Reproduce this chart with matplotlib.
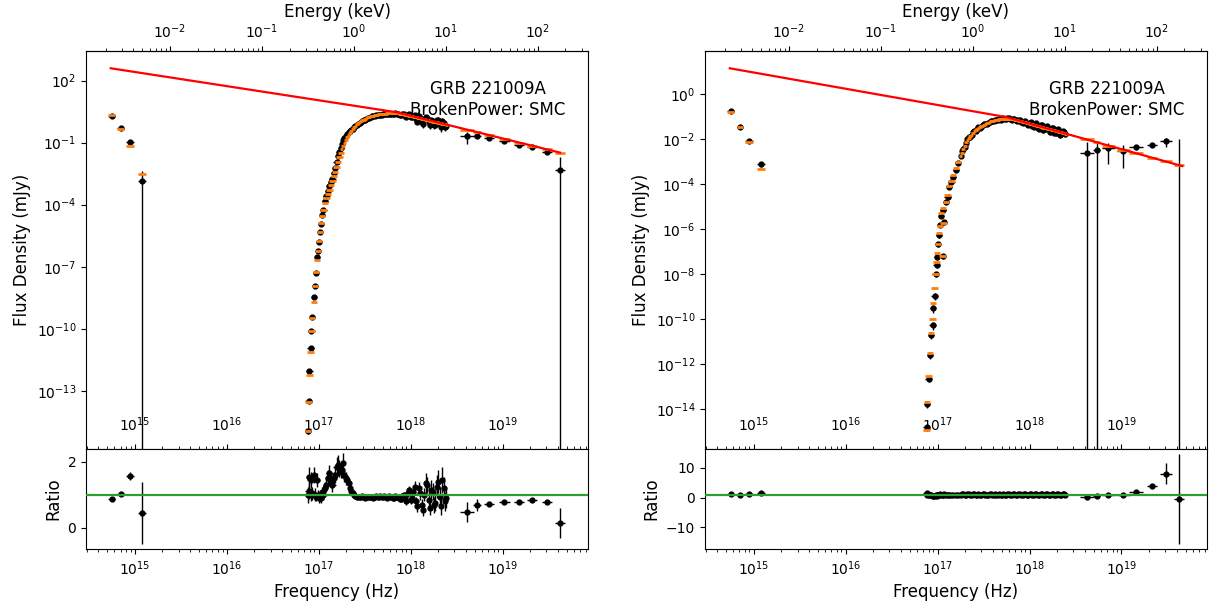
import numpy as np
import matplotlib
matplotlib.use('Agg')
import matplotlib.pyplot as plt
from matplotlib.ticker import FixedLocator, NullLocator

H_KEV = 4.135667696e-18  # keV * s

# ======================= LEFT PANEL DATA =======================
L_opt_lognu = [14.75, 14.847, 14.949, 15.076]
L_opt_halfw = [0.036, 0.036, 0.04, 0.045]
L_opt_model = [0.355, -0.32, -1.17, -2.51]
L_opt_ratio = [0.87, 1.04, 1.57, 0.45]
L_opt_rerr = [0.05, 0.05, 0.12, 0.95]

L_rise_lognu = [16.886, 16.891, 16.899, 16.912, 16.922, 16.930, 16.947, 16.958, 16.969, 16.983,
                16.994, 17.005, 17.013, 17.024, 17.038, 17.051, 17.070, 17.085, 17.100, 17.117,
                17.135, 17.150, 17.165, 17.180, 17.195, 17.210, 17.225, 17.240]
L_rise_model = [-14.95, -13.55, -12.24, -11.11, -10.10, -9.47, -8.69, -7.92, -7.27, -6.67,
                -6.22, -5.74, -5.30, -4.88, -4.55, -4.26, -3.92, -3.70, -3.50, -3.31,
                -3.05, -2.85, -2.62, -2.42, -2.20, -1.93, -1.70, -1.50]
L_rise_ratio = [1.00, 1.12, 1.55, 1.45, 1.00, 1.05, 1.60, 1.00, 0.95, 1.45,
                1.00, 0.90, 0.93, 0.90, 1.10, 1.00, 1.20, 1.30, 1.50, 1.65,
                1.40, 1.30, 1.50, 1.60, 1.85, 1.90, 1.80, 1.70]
L_rise_rerr = [0.25, 0.25, 0.30, 0.25, 0.20, 0.20, 0.25, 0.20, 0.15, 0.20,
               0.15, 0.15, 0.15, 0.15, 0.15, 0.15, 0.20, 0.20, 0.25, 0.25,
               0.20, 0.20, 0.20, 0.25, 0.30, 0.30, 0.25, 0.20]

L_peak_lognu = [17.25, 17.28, 17.31, 17.34, 17.37, 17.40, 17.43, 17.46, 17.49, 17.52,
                17.55, 17.58, 17.61, 17.64, 17.67, 17.70, 17.73, 17.76, 17.79, 17.82,
                17.85, 17.88, 17.91, 17.94, 17.97, 18.00, 18.03, 18.06, 18.09, 18.12,
                18.15, 18.18, 18.21, 18.24, 18.27, 18.30, 18.33, 18.36, 18.39]
L_peak_model = [-1.30, -1.00, -0.74, -0.52, -0.34, -0.18, -0.06, 0.04, 0.12, 0.19,
                0.25, 0.30, 0.33, 0.36, 0.38, 0.40, 0.41, 0.42, 0.43, 0.43,
                0.43, 0.41, 0.38, 0.35, 0.32, 0.29, 0.255, 0.225, 0.19, 0.16,
                0.125, 0.09, 0.06, 0.025, -0.005, -0.04, -0.07, -0.105, -0.135]
L_peak_ratio = [1.75, 1.60, 1.45, 1.20, 1.05, 0.97, 0.95, 0.93, 0.92, 0.94,
                0.92, 0.93, 0.95, 0.93, 0.96, 0.94, 0.92, 0.97, 0.93, 0.90,
                0.95, 0.88, 0.97, 0.90, 1.05, 0.85, 1.10, 0.80, 1.20, 0.70,
                1.00, 1.30, 0.60, 1.10, 0.75, 1.40, 0.65, 1.20, 0.90]
L_peak_rerr = [0.25, 0.20, 0.15, 0.10, 0.08, 0.06, 0.05, 0.05, 0.05, 0.05,
               0.05, 0.05, 0.05, 0.05, 0.05, 0.06, 0.06, 0.06, 0.07, 0.07,
               0.08, 0.08, 0.09, 0.10, 0.12, 0.12, 0.15, 0.15, 0.18, 0.18,
               0.20, 0.25, 0.20, 0.25, 0.25, 0.35, 0.25, 0.35, 0.30]

L_peak2_lognu = [17.265, 17.295, 17.325, 17.355, 17.385, 17.415, 17.445, 17.475, 17.505, 17.535,
                 17.565, 17.595, 17.625, 17.655, 17.685, 17.715, 17.745, 17.775, 17.805, 17.835,
                 17.865, 17.895, 17.925, 17.955, 17.985, 18.015, 18.045, 18.075, 18.105, 18.135,
                 18.165, 18.195, 18.225, 18.255, 18.285, 18.315, 18.345, 18.375]
L_peak2_model = [-1.15, -0.87, -0.63, -0.43, -0.26, -0.12, -0.01, 0.08, 0.155, 0.22,
                 0.275, 0.315, 0.345, 0.37, 0.39, 0.405, 0.415, 0.425, 0.43, 0.43,
                 0.42, 0.395, 0.365, 0.335, 0.305, 0.27, 0.24, 0.21, 0.175, 0.14,
                 0.105, 0.075, 0.04, 0.01, -0.02, -0.055, -0.09, -0.12]
L_peak2_ratio = [1.95, 1.50, 1.35, 1.12, 1.00, 0.95, 0.93, 0.96, 0.91, 0.95,
                 0.93, 0.90, 0.96, 0.92, 0.94, 0.97, 0.90, 0.95, 0.91, 0.96,
                 0.92, 0.86, 1.00, 0.82, 1.15, 0.90, 1.25, 0.65, 1.05, 0.55,
                 1.35, 0.85, 1.15, 0.70, 1.25, 0.95, 1.45, 0.80]
L_peak2_rerr = [0.30, 0.20, 0.15, 0.10, 0.07, 0.06, 0.05, 0.05, 0.05, 0.05,
                0.05, 0.05, 0.05, 0.05, 0.06, 0.06, 0.06, 0.07, 0.07, 0.08,
                0.08, 0.09, 0.10, 0.12, 0.13, 0.14, 0.18, 0.16, 0.20, 0.18,
                0.30, 0.25, 0.30, 0.25, 0.35, 0.30, 0.40, 0.30]

L_bat_lognu = [18.61, 18.726, 18.857, 19.016, 19.183, 19.324, 19.48, 19.626]
L_bat_halfw = [0.076, 0.045, 0.055, 0.06, 0.055, 0.055, 0.055, 0.055]
L_bat_model = [-0.365, -0.493, -0.637, -0.811, -0.995, -1.15, -1.321, -1.482]
L_bat_ratio = [0.49, 0.69, 0.71, 0.77, 0.77, 0.83, 0.77, 0.15]
L_bat_rerr = [0.30, 0.18, 0.06, 0.05, 0.05, 0.05, 0.06, 0.46]

L_int_lognu = [14.739, 17.85, 19.625]
L_int_logF = [2.6, 0.47, -1.48]

# ======================= RIGHT PANEL DATA =======================
R_opt_lognu = [14.75, 14.85, 14.95, 15.076]
R_opt_halfw = [0.036, 0.036, 0.04, 0.045]
R_opt_model = [-0.81, -1.47, -2.12, -3.32]
R_opt_ratio = [1.10, 1.00, 1.08, 1.60]
R_opt_rerr = [0.10, 0.08, 0.10, 0.35]

R_rise_lognu = [16.881, 16.888, 16.903, 16.917, 16.928, 16.946, 16.953, 16.968, 16.979, 16.990,
                16.996, 17.007, 17.018, 17.026, 17.040, 17.055, 17.058, 17.065, 17.090, 17.108,
                17.127, 17.150, 17.170, 17.200, 17.225]
R_rise_model = [-14.93, -13.67, -12.53, -11.50, -10.59, -9.97, -9.27, -8.61, -8.01, -7.48,
                -7.05, -6.64, -6.19, -5.87, -5.30, -7.19, -5.07, -5.71, -4.79, -4.50,
                -4.10, -3.85, -3.60, -3.30, -3.00]
R_rise_ratio = [1.38, 0.83, 0.78, 0.79, 0.76, 0.50, 0.56, 0.45, 1.00, 0.76,
                0.66, 0.91, 0.83, 1.12, 0.76, 1.00, 0.81, 1.10, 1.00, 0.87,
                0.95, 0.89, 0.85, 0.83, 0.83]
R_rise_rerr = [0.40, 0.30, 0.25, 0.25, 0.25, 0.20, 0.20, 0.15, 0.25, 0.20,
               0.20, 0.20, 0.20, 0.20, 0.15, 0.25, 0.15, 0.20, 0.15, 0.15,
               0.15, 0.15, 0.15, 0.15, 0.15]

R_peak_lognu = L_peak_lognu
R_peak_model = [-2.75, -2.45, -2.15, -1.95, -1.80, -1.66, -1.56, -1.47, -1.40, -1.33,
                -1.27, -1.22, -1.18, -1.15, -1.13, -1.11, -1.10, -1.10, -1.11, -1.13,
                -1.15, -1.18, -1.22, -1.25, -1.28, -1.32, -1.35, -1.38, -1.42, -1.45,
                -1.49, -1.52, -1.55, -1.59, -1.62, -1.66, -1.69, -1.72, -1.76]
R_peak_ratio = [0.95, 1.05, 0.90, 1.10, 0.95, 1.05, 1.00, 0.95, 1.05, 1.00,
                0.97, 1.03, 1.00, 0.96, 1.04, 1.00, 0.95, 1.05, 0.98, 1.02,
                0.94, 1.06, 0.95, 1.05, 0.90, 1.10, 0.85, 1.12, 0.80, 1.15,
                0.75, 1.10, 0.85, 1.20, 0.80, 1.10, 0.75, 1.15, 0.95]
R_peak_rerr = [0.12, 0.10, 0.10, 0.08, 0.08, 0.06, 0.06, 0.06, 0.06, 0.06,
               0.06, 0.06, 0.06, 0.06, 0.07, 0.07, 0.07, 0.08, 0.08, 0.08,
               0.09, 0.09, 0.10, 0.10, 0.12, 0.12, 0.13, 0.14, 0.15, 0.16,
               0.16, 0.18, 0.18, 0.20, 0.20, 0.22, 0.22, 0.25, 0.25]

R_peak2_lognu = L_peak2_lognu
R_peak2_model = [-2.60, -2.30, -2.05, -1.87, -1.73, -1.61, -1.51, -1.43, -1.36, -1.30,
                 -1.245, -1.20, -1.165, -1.14, -1.12, -1.105, -1.10, -1.105, -1.12, -1.14,
                 -1.165, -1.20, -1.235, -1.265, -1.30, -1.335, -1.365, -1.40, -1.435, -1.47,
                 -1.505, -1.535, -1.57, -1.605, -1.64, -1.675, -1.705, -1.74]
R_peak2_ratio = [1.20, 0.85, 1.15, 0.90, 1.05, 0.95, 1.08, 0.92, 1.02, 0.97,
                 1.05, 0.95, 1.03, 0.98, 0.95, 1.04, 0.97, 1.06, 0.93, 1.08,
                 0.90, 1.10, 0.88, 1.15, 0.85, 1.20, 0.80, 1.25, 0.78, 1.20,
                 0.85, 1.30, 0.75, 1.25, 0.80, 1.30, 0.85, 1.10]
R_peak2_rerr = [0.12, 0.10, 0.10, 0.08, 0.07, 0.06, 0.06, 0.06, 0.06, 0.06,
                0.06, 0.06, 0.06, 0.07, 0.07, 0.07, 0.08, 0.08, 0.08, 0.09,
                0.09, 0.10, 0.11, 0.12, 0.12, 0.13, 0.14, 0.15, 0.16, 0.16,
                0.17, 0.18, 0.19, 0.20, 0.21, 0.22, 0.24, 0.25]

R_bat_lognu = [18.62, 18.73, 18.857, 19.02, 19.16, 19.33, 19.48, 19.625]
R_bat_halfw = [0.076, 0.036, 0.072, 0.072, 0.076, 0.054, 0.065, 0.05]
R_bat_model = [-2.018, -2.143, -2.288, -2.473, -2.632, -2.825, -2.995, -3.16]
R_bat_ratio = [0.25, 0.45, 0.75, 0.85, 1.9, 3.7, 8.0, -0.5]
R_bat_rerr = [0.54, 0.60, 0.60, 0.70, 0.50, 0.60, 3.4, 15.0]

R_int_lognu = [14.74, 17.75, 19.66]
R_int_logF = [1.14, -1.03, -3.2]

RISE_HALFW = 0.035
PEAK_HALFW = 0.02

ENERGY_TICKS = [1e-2, 1e-1, 1e0, 1e1, 1e2]

# ======================= FIGURE =======================
fig = plt.figure(figsize=(12.1, 6.08), dpi=100)

XLIM = (10 ** 14.47, 10 ** 19.93)


def panel(left, groups, intr, ylim, yticks, rlim, rticks):
    ax = fig.add_axes([left, 0.2615, 0.4149, 0.6551])
    axr = fig.add_axes([left, 0.0965, 0.4149, 0.165], sharex=ax)
    ax.set_xscale('log')
    ax.set_yscale('log')

    for lognu, hw, mod, rat, rerr in groups:
        lognu = np.asarray(lognu, float)
        hw = np.broadcast_to(np.asarray(hw, float), lognu.shape)
        nu = 10 ** lognu
        xerr = np.vstack([nu - nu * 10 ** (-hw), nu * 10 ** hw - nu])
        m = 10 ** np.asarray(mod, float)
        r = np.asarray(rat, float)
        re = np.asarray(rerr, float)
        flux = m * r
        ferr = m * re
        ax.errorbar(nu, flux, xerr=xerr, yerr=ferr, fmt='o', color='k', ms=3.5,
                    elinewidth=1, capsize=0, zorder=2)
        ax.errorbar(nu, m, xerr=xerr, fmt='none', ecolor='C1', elinewidth=2,
                    capsize=0, zorder=3)
        axr.errorbar(nu, r, xerr=xerr, yerr=re, fmt='o', color='k', ms=3.5,
                     elinewidth=1, capsize=0, zorder=2)

    ilog, iF = intr
    ax.plot(10 ** np.asarray(ilog), 10 ** np.asarray(iF), color='red', lw=1.6, zorder=4)
    axr.axhline(1, color='C2', lw=1.6, zorder=4)

    ax.set_xlim(*XLIM)
    ax.set_ylim(*ylim)
    ax.yaxis.set_major_locator(FixedLocator(yticks))
    ax.yaxis.set_minor_locator(NullLocator())
    ax.tick_params(axis='x', which='both', direction='in', pad=-24, labelsize=10)
    ax.tick_params(axis='y', labelsize=10)
    ax.set_ylabel('Flux Density (mJy)', fontsize=12)

    sec = ax.secondary_xaxis('top', functions=(lambda n: np.asarray(n) * H_KEV,
                                                lambda e: np.asarray(e) / H_KEV))
    sec.set_xticks(ENERGY_TICKS)
    sec.set_xlabel('Energy (keV)', fontsize=12)
    sec.tick_params(labelsize=10)

    ax.text(0.80, 0.878, 'GRB 221009A\nBrokenPower: SMC', transform=ax.transAxes,
            ha='center', va='center', fontsize=12, zorder=5)

    axr.set_ylim(*rlim)
    axr.set_yticks(rticks)
    axr.tick_params(labelsize=10)
    axr.set_ylabel('Ratio', fontsize=12)
    axr.set_xlabel('Frequency (Hz)', fontsize=12)
    return ax, axr


panel(0.0711,
      [(L_opt_lognu, L_opt_halfw, L_opt_model, L_opt_ratio, L_opt_rerr),
       (L_rise_lognu, RISE_HALFW, L_rise_model, L_rise_ratio, L_rise_rerr),
       (L_peak_lognu, PEAK_HALFW, L_peak_model, L_peak_ratio, L_peak_rerr),
       (L_peak2_lognu, PEAK_HALFW, L_peak2_model, L_peak2_ratio, L_peak2_rerr),
       (L_bat_lognu, L_bat_halfw, L_bat_model, L_bat_ratio, L_bat_rerr)],
      (L_int_lognu, L_int_logF),
      (10 ** -15.82, 10 ** 3.45), [1e2, 1e-1, 1e-4, 1e-7, 1e-10, 1e-13],
      (-0.646, 2.385), [0, 2])

panel(0.5826,
      [(R_opt_lognu, R_opt_halfw, R_opt_model, R_opt_ratio, R_opt_rerr),
       (R_rise_lognu, RISE_HALFW, R_rise_model, R_rise_ratio, R_rise_rerr),
       (R_peak_lognu, PEAK_HALFW, R_peak_model, R_peak_ratio, R_peak_rerr),
       (R_peak2_lognu, PEAK_HALFW, R_peak2_model, R_peak2_ratio, R_peak2_rerr),
       (R_bat_lognu, R_bat_halfw, R_bat_model, R_bat_ratio, R_bat_rerr)],
      (R_int_lognu, R_int_logF),
      (10 ** -15.76, 10 ** 1.92), [1e0, 1e-2, 1e-4, 1e-6, 1e-8, 1e-10, 1e-12, 1e-14],
      (-17.3, 16.2), [-10, 0, 10])

fig.savefig('out.png', dpi=100)
